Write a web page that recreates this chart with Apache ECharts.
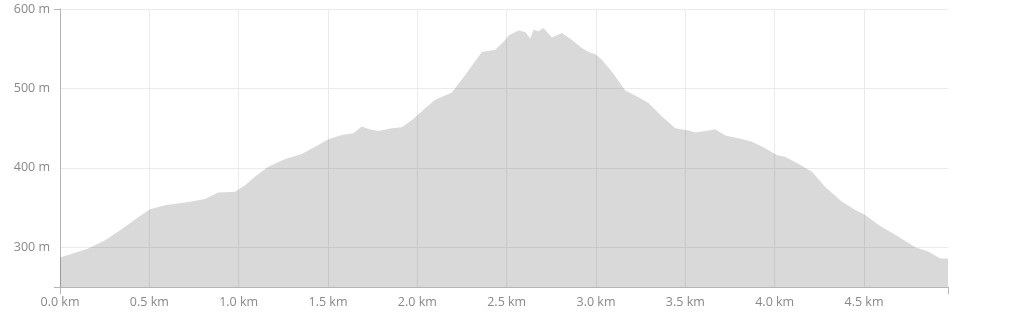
<!DOCTYPE html>
<html>
<head>
<meta charset="utf-8">
<script src="https://cdn.jsdelivr.net/npm/echarts@6/dist/echarts.min.js"></script>
<style>
html,body{margin:0;padding:0;background:#fff;}
#chart{width:1021px;height:333px;}
</style>
</head>
<body>
<div id="chart"></div>
<script>
// Distance along the route (km)
const distanceKm = [0, 0.084, 0.158, 0.252, 0.345, 0.438, 0.504, 0.588, 0.718, 0.812, 0.886, 0.98,
  1.036, 1.092, 1.166, 1.26, 1.353, 1.428, 1.502, 1.577, 1.642, 1.689, 1.726, 1.782, 1.857, 1.913, 1.969,
  2.044, 2.1, 2.193, 2.268, 2.361, 2.436, 2.492, 2.51, 2.566, 2.604, 2.632, 2.65, 2.678, 2.706, 2.753,
  2.809, 2.865, 2.921, 2.958, 2.996, 3.033, 3.089, 3.164, 3.238, 3.294, 3.369, 3.444, 3.518, 3.555,
  3.63, 3.667, 3.723, 3.798, 3.873, 3.947, 4.013, 4.059, 4.134, 4.209, 4.283, 4.377, 4.451, 4.507,
  4.582, 4.693, 4.787, 4.862, 4.927, 4.97];
// Elevation (m)
const elevationM = [287, 293, 298.6, 309, 322.6, 337.7, 348, 353, 357, 360.7, 369, 370,
  378, 389, 401.5, 411, 417.5, 426.7, 436, 441.5, 443.6, 452, 449, 446.5, 450, 451, 460,
  475, 485.6, 495, 517, 545.8, 548.7, 561, 566.7, 573, 571, 563, 574, 572, 576, 564,
  569.7, 561, 551, 546, 543, 536, 521, 497.4, 489, 481.5, 464.6, 450, 447, 444.4,
  447, 448.6, 440.6, 437.3, 433, 424.7, 416, 414, 405, 395.2, 376, 357.4, 347, 340.6,
  328, 313.3, 300, 294.3, 286, 286];
// Axis settings / tick labels
const xMaxKm = 4.97;
const xTickStep = 0.5;
const yMin = 250, yMax = 600;
const yLabelValues = [300, 400, 500, 600];

const data = distanceKm.map((d, i) => [d, elevationM[i]]);
const labelStyle = { color: '#888888', fontSize: 12.5, fontFamily: 'Open Sans, sans-serif' };
const axisGray = '#b5b5b5';
const gridGray = '#ebebeb';

const chart = echarts.init(document.getElementById('chart'), null, { renderer: 'canvas' });
chart.setOption({
  animation: false,
  grid: { left: 60, right: 73, top: 9, bottom: 46, containLabel: false },
  xAxis: [{
    type: 'value', min: 0, max: xMaxKm, interval: xTickStep,
    axisLine: { show: true, lineStyle: { color: axisGray, width: 1 } },
    axisTick: { show: false },
    axisLabel: Object.assign({ margin: 9, showMaxLabel: false,
      formatter: v => v.toFixed(1) + ' km' }, labelStyle),
    splitLine: { show: true, showMaxLine: false, lineStyle: { color: gridGray, width: 1 } }
  }, {
    type: 'value', min: 0, max: xMaxKm, position: 'bottom',
    axisLine: { show: false },
    axisTick: { show: true, length: 7, customValues: [0, xMaxKm], lineStyle: { color: axisGray } },
    axisLabel: { show: false },
    splitLine: { show: false }
  }],
  yAxis: [{
    type: 'value', min: yMin, max: yMax, interval: 50,
    axisLine: { show: true, lineStyle: { color: axisGray, width: 1 } },
    axisTick: { show: false },
    axisLabel: Object.assign({ margin: 10,
      formatter: v => (yLabelValues.indexOf(v) >= 0 ? v + ' m' : '') }, labelStyle),
    splitLine: { show: true, lineStyle: { color: ['rgba(0,0,0,0)', gridGray], width: 1 } }
  }, {
    type: 'value', min: yMin, max: yMax, position: 'left',
    axisLine: { show: false },
    axisTick: { show: true, length: 6, customValues: [yMin, yMax], lineStyle: { color: axisGray } },
    axisLabel: { show: false },
    splitLine: { show: false }
  }],
  series: [{
    type: 'line',
    xAxisIndex: 0, yAxisIndex: 0,
    data: data,
    showSymbol: false,
    smooth: false,
    lineStyle: { width: 0 },
    areaStyle: { color: 'rgba(0,0,0,0.15)', opacity: 1, origin: 'start' },
    silent: true
  }]
});
</script>
</body>
</html>
